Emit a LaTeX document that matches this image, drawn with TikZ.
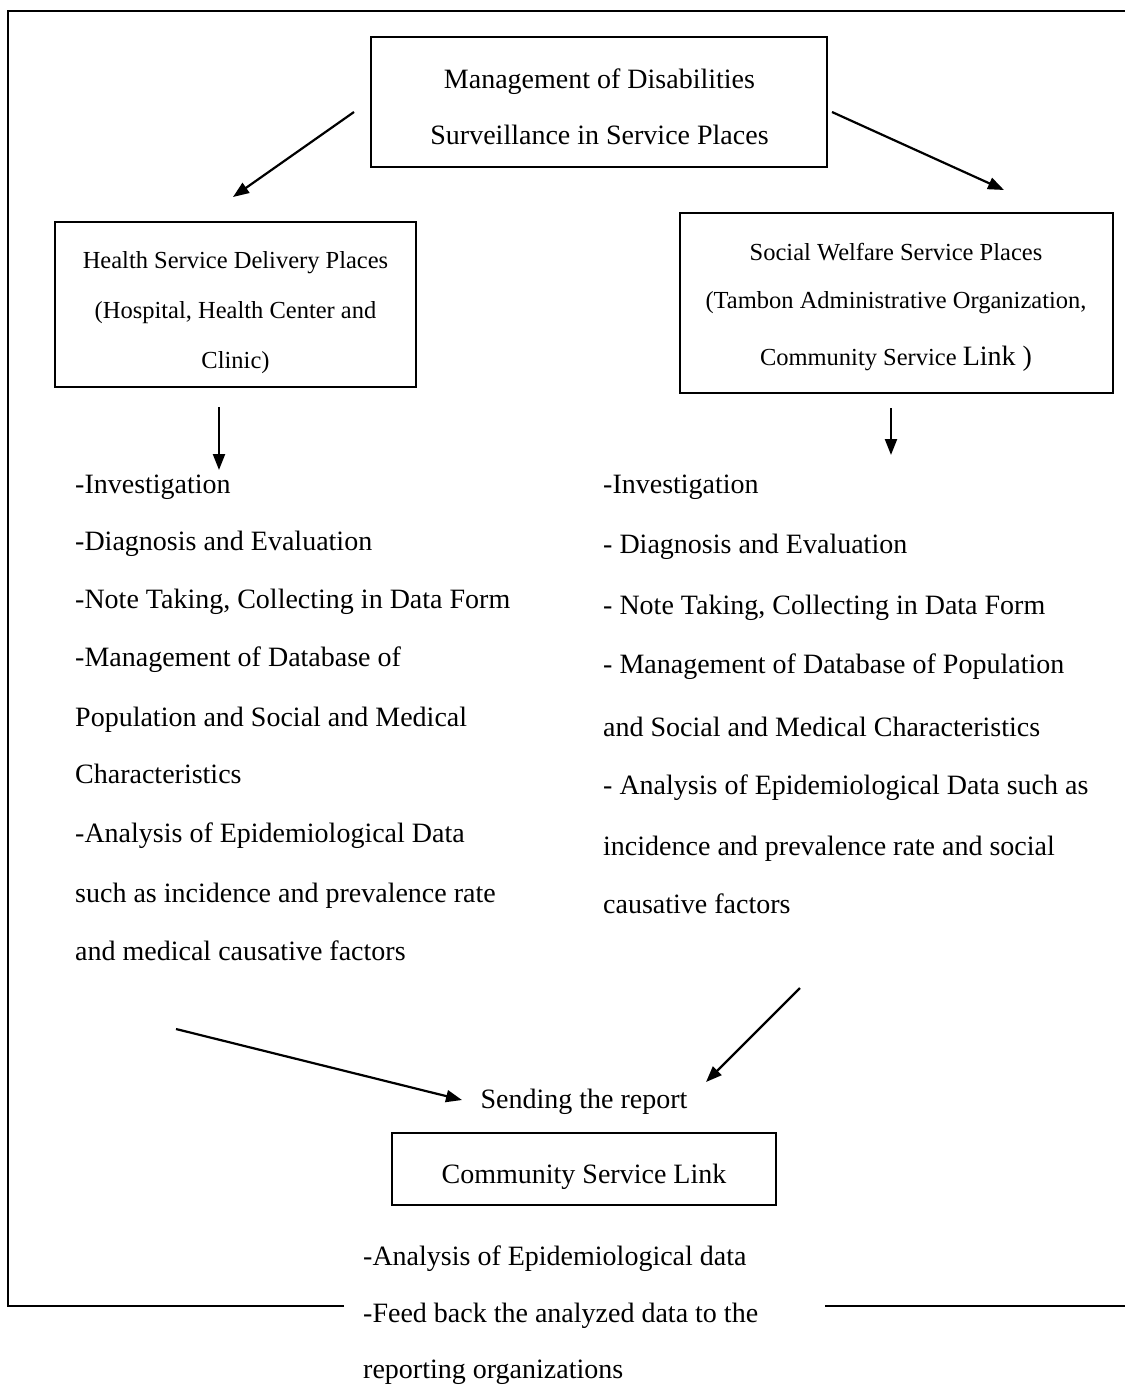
\documentclass[tikz,border=0pt]{standalone}
\usepackage{fontspec}
\setmainfont{Liberation Serif}
\usetikzlibrary{arrows.meta}
\begin{document}
\begin{tikzpicture}[x=1pt,y=-1pt,
  box/.style={draw,line width=1.8pt,inner sep=0pt},
  arr/.style={line width=2.2pt,-{Triangle[length=16pt,width=12pt]}},
  lst/.style={anchor=base west,inner sep=0pt,font=\fontsize{28}{34}\selectfont},
  btxt/.style={anchor=base,inner sep=0pt,font=\fontsize{24.5}{30}\selectfont},
  ttxt/.style={anchor=base,inner sep=0pt,font=\fontsize{28}{34}\selectfont},
  framel/.style={line width=1.8pt}]
\useasboundingbox (0,0) rectangle (1125,1387);

% frame
\coordinate (fbl) at (344,1306);
\coordinate (fcorner) at (8,1306);
\coordinate (ftl) at (8,11);
\coordinate (ftr) at (1125,11);
\coordinate (fbr1) at (825,1306);
\coordinate (fbr2) at (1125,1306);
\draw[framel] (fbl) -- (fcorner) -- (ftl) -- (ftr);
\draw[framel] (fbr1) -- (fbr2);

% top box
\node[box,minimum width=456pt,minimum height=130pt] (top) at (599,102) {};
\node[ttxt] (top1) at (599.5,88) {Management of Disabilities};
\node[ttxt] (top2) at (599.5,144) {Surveillance in Service Places};

% left box
\node[box,minimum width=361pt,minimum height=165pt] (lbox) at (235.5,304.5) {};
\node[btxt] (l1) at (235.5,268) {Health Service Delivery Places};
\node[btxt] (l2) at (235.5,318) {(Hospital, Health Center and};
\node[btxt] (l3) at (235.5,368) {Clinic)};

% right box
\node[box,minimum width=433pt,minimum height=180pt] (rbox) at (896.5,303) {};
\node[btxt] (r1) at (896,260) {Social Welfare Service Places};
\node[btxt] (r2) at (896,308) {(Tambon Administrative Organization,};
\node[btxt] (r3) at (896,365) {Community Service {\fontsize{28}{34}\selectfont Link )}};

% left list
\node[lst] (a1) at (75,493) {-Investigation};
\node[lst] (a2) at (75,550) {-Diagnosis and Evaluation};
\node[lst] (a3) at (75,608) {-Note Taking, Collecting in Data Form};
\node[lst] (a4) at (75,666) {-Management of Database of};
\node[lst] (a5) at (75,726) {Population and Social and Medical};
\node[lst] (a6) at (75,783) {Characteristics};
\node[lst] (a7) at (75,842) {-Analysis of Epidemiological Data};
\node[lst] (a8) at (75,902) {such as incidence and prevalence rate};
\node[lst] (a9) at (75,960) {and medical causative factors};

% right list
\node[lst] (b1) at (603,493) {-Investigation};
\node[lst] (b2) at (603,553) {- Diagnosis and Evaluation};
\node[lst] (b3) at (603,614) {- Note Taking, Collecting in Data Form};
\node[lst] (b4) at (603,673) {- Management of Database of Population};
\node[lst] (b5) at (603,736) {and Social and Medical Characteristics};
\node[lst] (b6) at (603,794) {- Analysis of Epidemiological Data such as};
\node[lst] (b7) at (603,855) {incidence and prevalence rate and social};
\node[lst] (b8) at (603,913) {causative factors};

% sending / bottom
\node[ttxt] (send) at (584,1108) {Sending the report};
\node[box,minimum width=384pt,minimum height=72pt] (cbox) at (584,1169) {};
\node[ttxt] (ctext) at (584,1183) {Community Service Link};
\node[lst] (c1) at (363,1265) {-Analysis of Epidemiological data};
\node[lst] (c2) at (363,1322) {-Feed back the analyzed data to the};
\node[lst] (c3) at (363,1378) {reporting organizations};

% arrow endpoints
\coordinate (p1s) at (354,112);
\coordinate (p1e) at (233,197);
\coordinate (p2s) at (832,112);
\coordinate (p2e) at (1004,190);
\coordinate (p3s) at (219,407);
\coordinate (p3e) at (219,470);
\coordinate (p4s) at (891,408);
\coordinate (p4e) at (891,455);
\coordinate (p5s) at (176,1029);
\coordinate (p5e) at (462,1100);
\coordinate (p6s) at (800,988);
\coordinate (p6e) at (706,1082);

\draw[arr] (p1s) -- (p1e);
\draw[arr] (p2s) -- (p2e);
\draw[arr] (p3s) -- (p3e);
\draw[arr] (p4s) -- (p4e);
\draw[arr] (p5s) -- (p5e);
\draw[arr] (p6s) -- (p6e);
\end{tikzpicture}
\end{document}
